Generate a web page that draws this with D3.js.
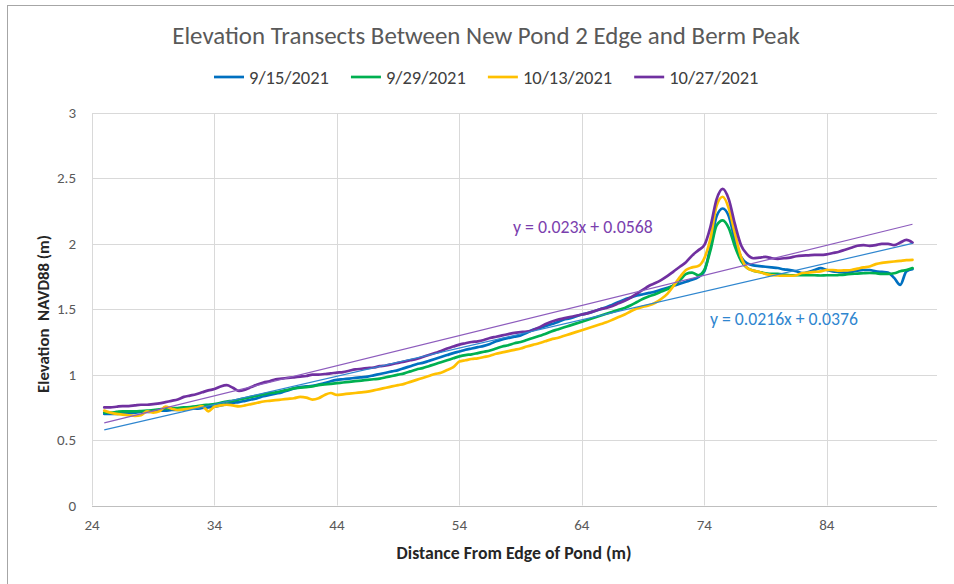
<!DOCTYPE html>
<html>
<head>
<meta charset="utf-8">
<script src="https://cdn.jsdelivr.net/npm/d3@7"></script>
<style>
  body { margin: 0; background: #fff; }
  svg { display: block; }
</style>
</head>
<body>
<div id="chart"></div>
<script>
// distancias de muestreo (m)
const distance = [
  25, 25.5, 26, 26.5, 27, 27.5, 28, 28.5, 29, 29.5,
  30, 30.5, 31, 31.5, 32, 32.5, 33, 33.5, 34, 34.5,
  35, 35.5, 36, 36.5, 37, 37.5, 38, 38.5, 39, 39.5,
  40, 40.5, 41, 41.5, 42, 42.5, 43, 43.5, 44, 44.5,
  45, 45.5, 46, 46.5, 47, 47.5, 48, 48.5, 49, 49.5,
  50, 50.5, 51, 51.5, 52, 52.5, 53, 53.5, 54, 54.5,
  55, 55.5, 56, 56.5, 57, 57.5, 58, 58.5, 59, 59.5,
  60, 60.5, 61, 61.5, 62, 62.5, 63, 63.5, 64, 64.5,
  65, 65.5, 66, 66.5, 67, 67.5, 68, 68.5, 69, 69.5,
  70, 70.5, 71, 71.5, 72, 72.5, 73, 73.5, 74, 74.5,
  75, 75.5, 76, 76.5, 77, 77.5, 78, 78.5, 79, 79.5,
  80, 80.5, 81, 81.5, 82, 82.5, 83, 83.5, 84, 84.5,
  85, 85.5, 86, 86.5, 87, 87.5, 88, 88.5, 89, 89.5,
  90, 90.5, 91
];

const elev0915 = [
  .70, .70, .70, .705, .705, .71, .715, .715, .72, .725,
  .725, .73, .73, .735, .74, .74, .745, .75, .755, .765,
  .775, .785, .79, .80, .81, .82, .835, .845, .855, .865,
  .88, .895, .905, .91, .915, .925, .935, .95, .96, .965,
  .97, .975, .98, .985, .995, 1.005, 1.015, 1.025, 1.035, 1.05,
  1.065, 1.08, 1.09, 1.105, 1.12, 1.135, 1.15, 1.165, 1.177, 1.19,
  1.20, 1.21, 1.22, 1.235, 1.255, 1.27, 1.28, 1.29, 1.30, 1.32,
  1.343, 1.355, 1.37, 1.385, 1.40, 1.42, 1.43, 1.445, 1.46, 1.47,
  1.485, 1.50, 1.515, 1.535, 1.555, 1.575, 1.59, 1.605, 1.615, 1.625,
  1.635, 1.65, 1.665, 1.68, 1.695, 1.71, 1.725, 1.745, 1.79, 1.98,
  2.21, 2.27, 2.21, 2.03, 1.90, 1.85, 1.835, 1.83, 1.825, 1.82,
  1.815, 1.805, 1.80, 1.79, 1.776, 1.785, 1.80, 1.815, 1.80, 1.79,
  1.785, 1.78, 1.785, 1.795, 1.80, 1.80, 1.79, 1.785, 1.78, 1.74,
  1.687, 1.79, 1.807
];

const elev0929 = [
  .71, .71, .715, .72, .72, .72, .722, .725, .73, .735,
  .74, .745, .745, .75, .752, .757, .765, .77, .775, .785,
  .795, .80, .81, .82, .83, .84, .85, .86, .865, .875,
  .885, .895, .90, .905, .91, .92, .925, .93, .935, .94,
  .945, .95, .955, .96, .965, .97, .98, .99, 1.0, 1.01,
  1.025, 1.04, 1.05, 1.065, 1.08, 1.095, 1.11, 1.125, 1.14, 1.15,
  1.155, 1.165, 1.175, 1.185, 1.20, 1.215, 1.225, 1.24, 1.25, 1.265,
  1.28, 1.295, 1.31, 1.33, 1.345, 1.36, 1.375, 1.39, 1.405, 1.42,
  1.435, 1.45, 1.465, 1.48, 1.495, 1.51, 1.53, 1.555, 1.58, 1.60,
  1.615, 1.635, 1.655, 1.685, 1.72, 1.77, 1.78, 1.76, 1.80, 1.95,
  2.14, 2.18, 2.12, 1.98, 1.87, 1.815, 1.795, 1.785, 1.775, 1.77,
  1.77, 1.765, 1.76, 1.76, 1.76, 1.76, 1.76, 1.758, 1.76, 1.76,
  1.762, 1.765, 1.77, 1.772, 1.775, 1.777, 1.775, 1.77, 1.77, 1.775,
  1.79, 1.80, 1.815
];

const elev1013 = [
  .725, .71, .70, .695, .69, .685, .69, .72, .71, .72,
  .755, .74, .73, .735, .74, .748, .76, .72, .755, .765,
  .77, .765, .758, .765, .775, .785, .795, .80, .805, .81,
  .815, .82, .83, .825, .81, .82, .845, .86, .845, .85,
  .855, .86, .865, .87, .88, .89, .90, .91, .92, .93,
  .945, .96, .975, .99, 1.005, 1.015, 1.035, 1.057, 1.10, 1.11,
  1.12, 1.125, 1.135, 1.145, 1.16, 1.17, 1.18, 1.19, 1.20, 1.215,
  1.228, 1.24, 1.255, 1.27, 1.28, 1.295, 1.31, 1.325, 1.34, 1.355,
  1.37, 1.385, 1.40, 1.42, 1.44, 1.46, 1.485, 1.505, 1.52, 1.53,
  1.55, 1.58, 1.62, 1.68, 1.745, 1.80, 1.82, 1.83, 1.89, 2.04,
  2.29, 2.36, 2.27, 2.08, 1.90, 1.815, 1.795, 1.785, 1.77, 1.76,
  1.758, 1.756, 1.756, 1.76, 1.777, 1.78, 1.785, 1.79, 1.80, 1.80,
  1.795, 1.797, 1.80, 1.81, 1.82, 1.827, 1.845, 1.855, 1.86, 1.865,
  1.87, 1.875, 1.878
];

const elev1027 = [
  .75, .75, .755, .76, .76, .765, .77, .77, .775, .78,
  .79, .80, .81, .83, .84, .85, .865, .88, .89, .91,
  .92, .90, .875, .885, .905, .925, .94, .95, .965, .97,
  .975, .98, .985, .99, 1.0, 1.0, 1.005, 1.01, 1.016, 1.02,
  1.03, 1.04, 1.045, 1.05, 1.055, 1.065, 1.07, 1.08, 1.09, 1.10,
  1.11, 1.12, 1.135, 1.15, 1.165, 1.18, 1.20, 1.215, 1.23, 1.24,
  1.25, 1.255, 1.265, 1.28, 1.29, 1.30, 1.31, 1.32, 1.325, 1.33,
  1.34, 1.36, 1.385, 1.405, 1.42, 1.43, 1.44, 1.45, 1.46, 1.47,
  1.485, 1.50, 1.51, 1.525, 1.545, 1.565, 1.59, 1.62, 1.65, 1.68,
  1.70, 1.725, 1.755, 1.79, 1.825, 1.86, 1.91, 1.95, 1.99, 2.13,
  2.34, 2.42, 2.34, 2.15, 1.99, 1.92, 1.89, 1.895, 1.90, 1.89,
  1.885, 1.89, 1.895, 1.905, 1.91, 1.912, 1.915, 1.915, 1.92, 1.93,
  1.94, 1.955, 1.97, 1.985, 1.99, 1.985, 1.99, 2.0, 2.0, 1.99,
  2.01, 2.03, 2.01
];

const seriesNames = ["9/15/2021", "9/29/2021", "10/13/2021", "10/27/2021"];
const seriesValues = [elev0915, elev0929, elev1013, elev1027];
const seriesColors = ["#0070C0", "#00B050", "#FFC000", "#7030A0"];

const xTicks = [24, 34, 44, 54, 64, 74, 84];
const yTicks = [0, 0.5, 1, 1.5, 2, 2.5, 3];

// lineas de tendencia (10/27 y 9/15)
const trendSlopes = [0.023, 0.0216];
const trendIntercepts = [0.0568, 0.0376];
const trendLabels = ["y = 0.023x + 0.0568", "y = 0.0216x + 0.0376"];
const trendColors = ["#8d5cbd", "#2f86cf"];
const trendTextColors = ["#7b3fae", "#2f86cf"];

const width = 954, height = 584;
const font = "Calibri, Carlito, Lato, 'Open Sans', sans-serif";

const svg = d3.select("#chart").append("svg")
  .attr("width", width)
  .attr("height", height);

// ajusta el tamano de letra para que el texto ocupe un ancho dado
const fitWidth = (sel, w) => {
  const cur = sel.node().getComputedTextLength();
  const fs = parseFloat(sel.attr("font-size"));
  sel.attr("font-size", fs * w / cur);
  return sel;
};

const x = d3.scaleLinear().domain([24, 93]).range([92, 937]);
const y = d3.scaleLinear().domain([0, 3]).range([505.5, 113]);

// marco exterior
svg.append("rect")
  .attr("x", 7.5).attr("y", 5.5)
  .attr("width", width).attr("height", height)
  .attr("fill", "none")
  .attr("stroke", "#a6a6a6");

// rejilla
svg.append("g")
  .selectAll("line")
  .data(yTicks.slice(1))
  .join("line")
  .attr("x1", x(24)).attr("x2", x(93))
  .attr("y1", d => Math.round(y(d)) + 0.5)
  .attr("y2", d => Math.round(y(d)) + 0.5)
  .attr("stroke", "#d9d9d9");

svg.append("g")
  .selectAll("line")
  .data(xTicks)
  .join("line")
  .attr("x1", d => Math.round(x(d)) + 0.5)
  .attr("x2", d => Math.round(x(d)) + 0.5)
  .attr("y1", y(3)).attr("y2", y(0))
  .attr("stroke", "#d9d9d9");

// eje x
svg.append("line")
  .attr("x1", x(24)).attr("x2", x(93))
  .attr("y1", Math.round(y(0)) + 0.5).attr("y2", Math.round(y(0)) + 0.5)
  .attr("stroke", "#bfbfbf");

// series
const line = d3.line()
  .x((d, i) => x(distance[i]))
  .y(d => y(d))
  .curve(d3.curveMonotoneX);

svg.append("g")
  .selectAll("path")
  .data(seriesValues)
  .join("path")
  .attr("d", d => line(d))
  .attr("fill", "none")
  .attr("stroke", (d, i) => seriesColors[i])
  .attr("stroke-width", 2.7)
  .attr("stroke-linejoin", "round")
  .attr("stroke-linecap", "round");

// tendencias
const [xMin, xMax] = d3.extent(distance);
svg.append("g")
  .selectAll("line")
  .data(trendSlopes)
  .join("line")
  .attr("x1", x(xMin))
  .attr("y1", (m, i) => y(m * xMin + trendIntercepts[i]))
  .attr("x2", x(xMax))
  .attr("y2", (m, i) => y(m * xMax + trendIntercepts[i]))
  .attr("stroke", (m, i) => trendColors[i])
  .attr("stroke-width", 1.2);

const trendPos = [[513, 227, 140], [710, 319, 148]];
trendLabels.forEach((t, i) => {
  const lbl = svg.append("text")
    .attr("x", trendPos[i][0]).attr("y", trendPos[i][1])
    .attr("dominant-baseline", "central")
    .attr("font-family", font)
    .attr("font-size", 15)
    .attr("fill", trendTextColors[i])
    .text(t);
  fitWidth(lbl, trendPos[i][2]);
});

// etiquetas de los ejes
svg.append("g")
  .selectAll("text")
  .data(yTicks)
  .join("text")
  .attr("x", 76)
  .attr("y", d => y(d))
  .attr("text-anchor", "end")
  .attr("dominant-baseline", "central")
  .attr("font-family", font)
  .attr("font-size", 15)
  .attr("fill", "#595959")
  .text(d => d);

svg.append("g")
  .selectAll("text")
  .data(xTicks)
  .join("text")
  .attr("x", d => x(d))
  .attr("y", 525)
  .attr("text-anchor", "middle")
  .attr("dominant-baseline", "central")
  .attr("font-family", font)
  .attr("font-size", 15)
  .attr("fill", "#595959")
  .text(d => d);

// titulo
const title = svg.append("text")
  .attr("x", 486).attr("y", 35)
  .attr("text-anchor", "middle")
  .attr("dominant-baseline", "central")
  .attr("font-family", font)
  .attr("font-size", 22)
  .attr("fill", "#595959")
  .text("Elevation Transects Between New Pond 2 Edge and Berm Peak");
fitWidth(title, 628);

const xTitle = svg.append("text")
  .attr("x", 514).attr("y", 553)
  .attr("text-anchor", "middle")
  .attr("dominant-baseline", "central")
  .attr("font-family", font)
  .attr("font-weight", "bold")
  .attr("font-size", 15)
  .attr("fill", "#262626")
  .text("Distance From Edge of Pond (m)");
fitWidth(xTitle, 235);

const yTitle = svg.append("text")
  .attr("transform", "translate(43, 314) rotate(-90)")
  .attr("text-anchor", "middle")
  .attr("dominant-baseline", "central")
  .attr("font-family", font)
  .attr("font-weight", "bold")
  .attr("font-size", 15)
  .attr("fill", "#262626")
  .attr("xml:space", "preserve")
  .text("Elevation  NAVD88 (m)");
fitWidth(yTitle, 158);

// leyenda
const legend = svg.append("g");
const items = legend.selectAll("g")
  .data(seriesNames)
  .join("g");

items.append("line")
  .attr("x1", 0).attr("x2", 30)
  .attr("y1", 77).attr("y2", 77)
  .attr("stroke", (d, i) => seriesColors[i])
  .attr("stroke-width", 2.7);

const legendText = items.append("text")
  .attr("x", 35).attr("y", 77)
  .attr("dominant-baseline", "central")
  .attr("font-family", font)
  .attr("font-size", 14.5)
  .attr("fill", "#404040")
  .text(d => d);

const base = legendText.nodes()[0].getComputedTextLength();
legendText.attr("font-size", 14.5 * 80 / base);

let cx = 214;
items.each(function (d, i) {
  d3.select(this).attr("transform", `translate(${cx}, 0)`);
  cx += 35 + legendText.nodes()[i].getComputedTextLength() + 22;
});
</script>
</body>
</html>
